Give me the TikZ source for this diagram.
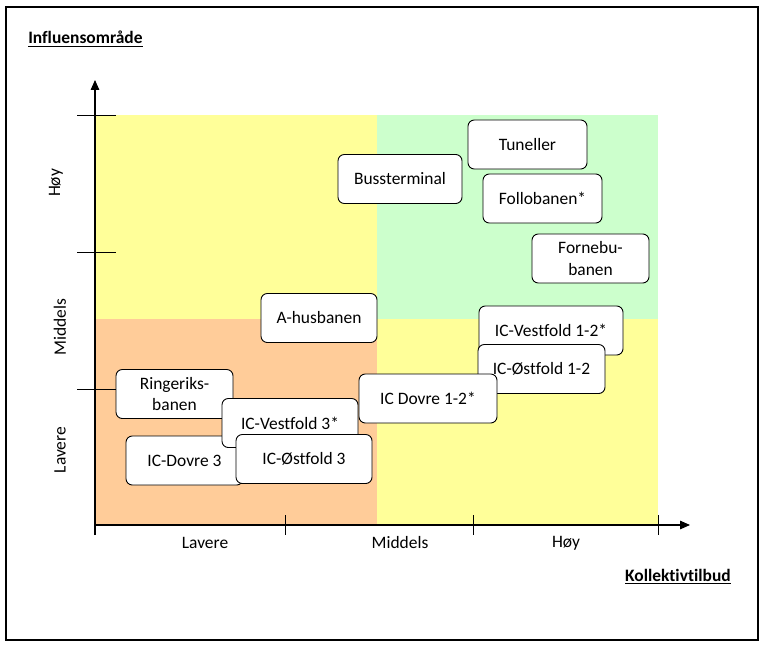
\documentclass[tikz,border=0pt]{standalone}
\usepackage{fontspec}
\setmainfont{Carlito}[Ligatures={NoCommon}]
\usepackage{tikz}
\usetikzlibrary{arrows.meta}
\newlength\px
\setlength\px{0.025cm}
\definecolor{gul}{RGB}{255,255,153}
\definecolor{gronn}{RGB}{204,255,204}
\definecolor{oransje}{RGB}{255,204,153}
\tikzstyle{tiltak}=[rectangle, rounded corners=4.5pt, draw, line width=0.65pt, fill=white, align=center, inner sep=2pt, minimum height=49\px]
\tikzstyle{akse}=[line width=0.8pt, -{Triangle[length=7pt,width=6pt]}]
\tikzstyle{strek}=[line width=0.7pt]
\tikzstyle{niva}=[inner sep=0pt]
\tikzstyle{tittel}=[inner sep=0pt, font=\bfseries]

\begin{document}
\begin{tikzpicture}[x=0.025cm, y=-0.025cm]
				\fontsize{12.4}{15.5}\selectfont
				\useasboundingbox (0,0) rectangle (766,649);
				\draw[line width=1pt] (6,7) rectangle (758,640);
				
				%The fields
				\fill[gul] (95,115) rectangle (377,319);
				\fill[gronn] (377,115) rectangle (658,319);
				\fill[oransje] (95,319) rectangle (377,525);
				\fill[gul] (377,319) rectangle (658,525);
				
				%The axes
				\coordinate (origo) at (95,525);
				\coordinate (ybunn) at (95,535);
				\coordinate (ytopp) at (95,80);
				\coordinate (xende) at (690,525);
				\draw[akse] (ybunn) -- (ytopp);
				\draw[akse] (origo) -- (xende);
				
				\draw[strek] (77,115) -- (116,115);
				\draw[strek] (77,252) -- (116,252);
				\draw[strek] (77,389) -- (116,389);
				\draw[strek] (285,515) -- (285,535);
				\draw[strek] (473,515) -- (473,535);
				\draw[strek] (658,515) -- (658,535);
				
				%The levels
				\draw (56,183) node[niva, rotate=90] (yhoy) {Høy};
				\draw (60,327) node[niva, rotate=90] (ymid) {Middels};
				\draw (60,450) node[niva, rotate=90] (ylav) {Lavere};
				\draw (205,543) node[niva] (xlav) {Lavere};
				\draw (400,543) node[niva] (xmid) {Middels};
				\draw (566,543) node[niva] (xhoy) {Høy};
				
				\draw (28,39) node[tittel, anchor=west] (influens) {\underline{Influensområde}};
				\draw (731,577) node[tittel, anchor=east] (kollektiv) {\underline{Kollektivtilbud}};
				
				%The projects
				\draw (527.5,144.5) node[tiltak, minimum width=119\px] (tun) {Tuneller};
				\draw (400,179) node[tiltak, minimum width=124\px] (buss) {Bussterminal};
				\draw (542.5,198.5) node[tiltak, minimum width=119\px] (follo) {Follobanen*};
				\draw (590.5,258.5) node[tiltak, minimum width=117\px] (fornebu) {Fornebu-\\banen};
				\draw (319,318) node[tiltak, minimum width=116\px] (ahus) {A-husbanen};
				
				\draw (551,330.5) node[tiltak, minimum width=144\px] (vestf12) {IC-Vestfold 1-2*};
				\draw (541.5,369) node[tiltak, minimum width=127\px] (ostf12) {IC-Østfold 1-2};
				\draw (428,398.5) node[tiltak, minimum width=138\px] (dovre12) {IC Dovre 1-2*};
				
				\draw (174.5,394) node[tiltak, minimum width=117\px] (ringe) {Ringeriks-\\banen};
				\draw (184.5,460.5) node[tiltak, minimum width=117\px] (dovre3) {IC-Dovre 3};
				\draw (290,423) node[tiltak, minimum width=136\px] (vestf3) {IC-Vestfold 3*};
				\draw (304,459) node[tiltak, minimum width=136\px] (ostf3) {IC-Østfold 3};
\end{tikzpicture}
\end{document}
